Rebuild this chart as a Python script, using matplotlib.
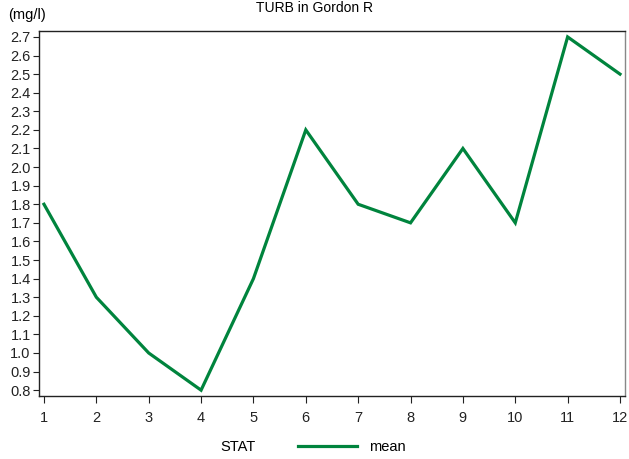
import numpy as np
import matplotlib
matplotlib.use('Agg')
import matplotlib.pyplot as plt

plt.rcParams['font.family'] = ['Liberation Sans', 'DejaVu Sans']

# данные
months = [1, 2, 3, 4, 5, 6, 7, 8, 9, 10, 11, 12]
turb_mean = [1.8, 1.3, 1.0, 0.8, 1.4, 2.2, 1.8, 1.7, 2.1, 1.7, 2.7, 2.5]
y_ticks = [0.8, 0.9, 1.0, 1.1, 1.2, 1.3, 1.4, 1.5, 1.6, 1.7, 1.8, 1.9,
           2.0, 2.1, 2.2, 2.3, 2.4, 2.5, 2.6, 2.7]

green = '#00843d'

fig = plt.figure(figsize=(6.29, 4.59), dpi=100)
ax = fig.add_axes([0.062, 0.137, 0.9316, 0.7955])

ax.plot(months, turb_mean, color=green, linewidth=2.3, solid_joinstyle='miter')

ax.set_xlim(0.905, 12.095)
ax.set_ylim(0.768, 2.732)
ax.set_xticks(months)
ax.set_yticks(y_ticks)
ax.set_yticklabels([f'{v:.1f}' for v in y_ticks])
ax.tick_params(axis='both', labelsize=10.5, colors='#222222', width=0.8)
ax.tick_params(axis='y', length=4, pad=2)
ax.tick_params(axis='x', length=5, pad=6)

for s in ['left', 'bottom', 'top']:
    ax.spines[s].set_color('#222222')
    ax.spines[s].set_linewidth(1.0)
ax.spines['right'].set_color('#888888')
ax.spines['right'].set_linewidth(1.0)

fig.text(0.5, 0.982, 'TURB in Gordon R', ha='center', va='center', fontsize=10)
fig.text(0.013, 0.968, '(mg/l)', ha='left', va='center', fontsize=10.5)

# легенда
fig.text(0.35, 0.026, 'STAT', ha='left', va='center', fontsize=10.5)
fig.add_artist(plt.Line2D([298 / 629, 357 / 629], [0.029, 0.029],
                          color=green, linewidth=2.3, transform=fig.transFigure))
fig.text(369 / 629, 0.026, 'mean', ha='left', va='center', fontsize=10.5)

fig.savefig('out.png', dpi=100)
